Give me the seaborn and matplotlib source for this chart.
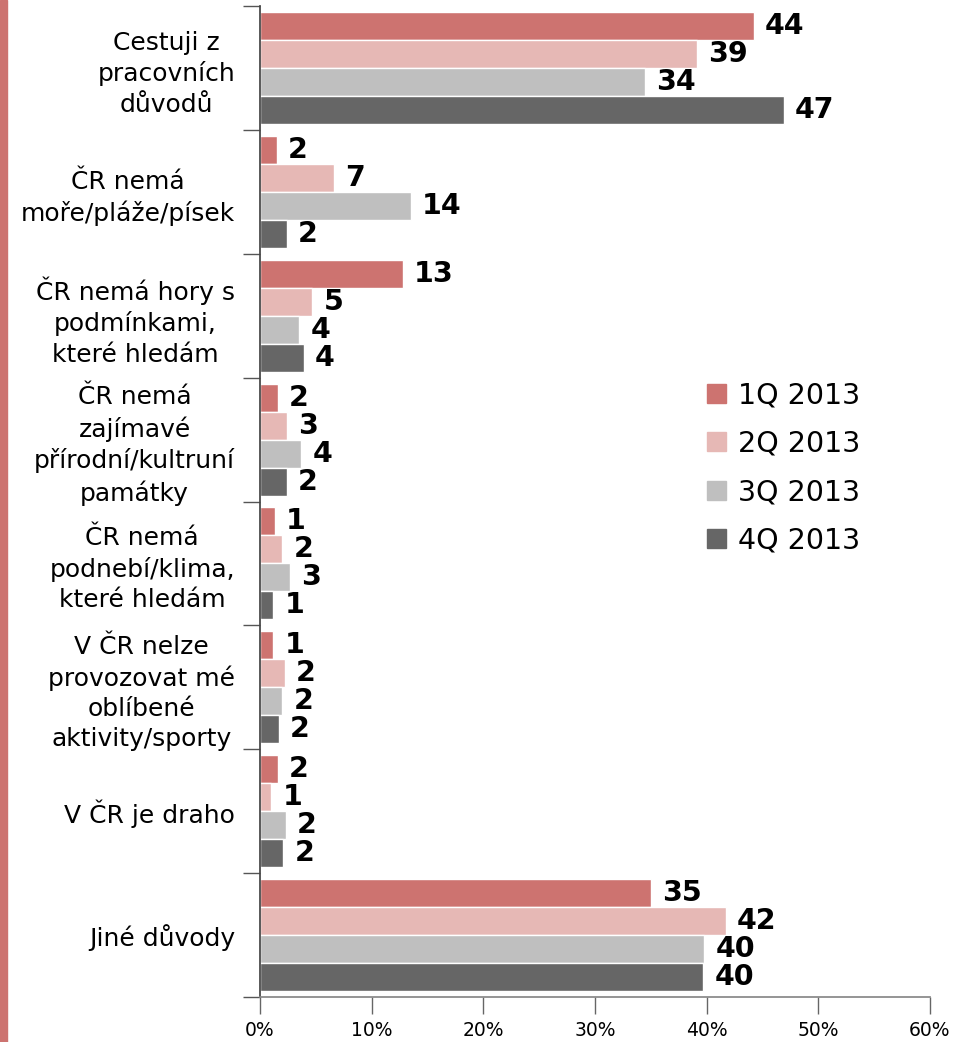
import matplotlib
matplotlib.use("Agg")
import matplotlib.pyplot as plt
import matplotlib.patches as mpatches
import seaborn as sns
import pandas as pd
import numpy as np

categories = [
    "Cestuji z\npracovních\ndůvodů",
    "ČR nemá\nmoře/pláže/písek",
    "ČR nemá hory s\npodmínkami,\nkteré hledám",
    "ČR nemá\nzajímavé\npřírodní/kultruní\npamátky",
    "ČR nemá\npodnebí/klima,\nkteré hledám",
    "V ČR nelze\nprovozovat mé\noblíbené\naktivity/sporty",
    "V ČR je draho",
    "Jiné důvody",
]
series = ["1Q 2013", "2Q 2013", "3Q 2013", "4Q 2013"]
q1 = [44.2, 1.5, 12.8, 1.6, 1.3, 1.2, 1.6, 35.0]
q2 = [39.1, 6.6, 4.7, 2.4, 2.0, 2.2, 1.0, 41.7]
q3 = [34.5, 13.5, 3.5, 3.7, 2.7, 2.0, 2.3, 39.8]
q4 = [46.9, 2.4, 3.9, 2.4, 1.2, 1.7, 2.1, 39.7]
labels_q1 = [44, 2, 13, 2, 1, 1, 2, 35]
labels_q2 = [39, 7, 5, 3, 2, 2, 1, 42]
labels_q3 = [34, 14, 4, 4, 3, 2, 2, 40]
labels_q4 = [47, 2, 4, 2, 1, 2, 2, 40]
xticks = [0, 10, 20, 30, 40, 50, 60]
colors = ["#CD7370", "#E6B8B5", "#BFBFBF", "#666666"]

rows = []
for s, vals in zip(series, [q1, q2, q3, q4]):
    for c, v in zip(categories, vals):
        rows.append({"cat": c, "series": s, "value": v})
df = pd.DataFrame(rows)

sns.set_theme(style="white")
plt.rcParams['font.family'] = ['DejaVu Sans']
plt.rcParams['text.color'] = 'black'
plt.rcParams['xtick.color'] = 'black'
plt.rcParams['ytick.color'] = 'black'

fig = plt.figure(figsize=(9.57, 10.42), dpi=100)
ax = fig.add_axes([260/957, 1-997/1042, 670/957, (997-6)/1042])

sns.barplot(data=df, x="value", y="cat", hue="series", order=categories,
            hue_order=series, palette=colors, saturation=1, orient="h", width=0.905,
            edgecolor="white", linewidth=1, ax=ax, legend=True)

all_labels = [labels_q1, labels_q2, labels_q3, labels_q4]
for cont, labs in zip(ax.containers, all_labels):
    ax.bar_label(cont, labels=[str(l) for l in labs], padding=8,
                 fontsize=20.5, fontweight="bold", color="black")

ax.set_xlim(0, 60)
ax.set_ylim(len(categories) - 0.5, -0.5)
ax.set_xticks(xticks)
ax.set_xticklabels([f"{t}%" for t in xticks], fontsize=13.5, color="black")
ax.set_yticks(range(len(categories)))
ax.set_yticklabels(categories, fontsize=18, color="black")
for lab in ax.get_yticklabels():
    lab.set_multialignment("center")
    lab.set_linespacing(1.33)
ax.set_yticks(np.arange(-0.5, len(categories), 1.0), minor=True)
ax.tick_params(axis="y", which="major", length=0, pad=18)
ax.tick_params(axis="y", which="minor", length=12, width=1, color="#555555", left=True)
ax.tick_params(axis="x", which="major", length=12, width=1, color="#666666", bottom=True, pad=5)
ax.set_xlabel("")
ax.set_ylabel("")
for sp in ["top", "right"]:
    ax.spines[sp].set_visible(False)
ax.spines["left"].set_color("#444444")
ax.spines["bottom"].set_color("#888888")
ax.grid(False)

handles = [mpatches.Patch(color=c, label=s) for c, s in zip(colors, series)]
ax.legend(handles=handles, loc="center left", bbox_to_anchor=(0.739, 0.551),
          bbox_transform=fig.transFigure, frameon=False, fontsize=20.5,
          handlelength=0.65, handleheight=0.65, handletextpad=0.42,
          labelspacing=0.72, borderpad=0, borderaxespad=0)

fig.patches.append(mpatches.Rectangle((0, 0), 7/957, 1, transform=fig.transFigure,
                                      color="#CD7370", zorder=0))

fig.savefig("out.png", dpi=100)
